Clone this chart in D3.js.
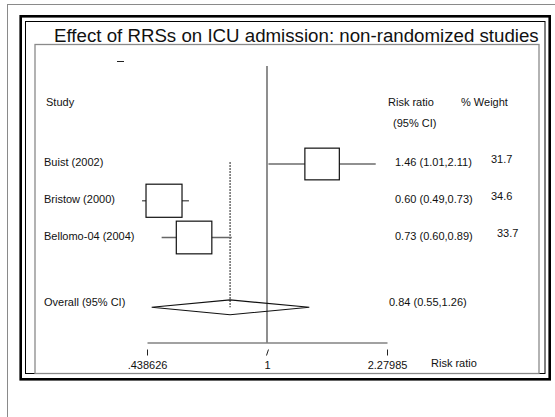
<!DOCTYPE html>
<html>
<head>
<meta charset="utf-8">
<script src="https://cdn.jsdelivr.net/npm/d3@7"></script>
<style>
  html, body { margin: 0; padding: 0; background: #fff; }
  svg text { font-family: "Liberation Sans", Arial, sans-serif; fill: #111; }
</style>
</head>
<body>
<div id="chart"></div>
<script>
const title = "Effect of RRSs on ICU admission: non-randomized studies";

const studies = ["Buist (2002)", "Bristow (2000)", "Bellomo-04 (2004)"];
const ratioLabels = ["1.46 (1.01,2.11)", "0.60 (0.49,0.73)", "0.73 (0.60,0.89)"];
const weights = [31.7, 34.6, 33.7];
// positions of the marks
const estimates = [1.46, 0.493, 0.606];
const lowers = [1.01, 0.424, 0.485];
const uppers = [2.11, 0.585, 0.785];

const overallLabel = "Overall (95% CI)";
const overallText = "0.84 (0.55,1.26)";
const overall = { est: 0.776, lo: 0.453, hi: 1.337 };

const tickValues = [0.438626, 1, 2.27985];
const tickLabels = [".438626", "1", "2.27985"];

const width = 555, height = 417;

const svg = d3.select("#chart")
  .append("svg")
  .attr("width", width)
  .attr("height", height);

// frames
svg.append("rect")
  .attr("x", 7.5).attr("y", 4.5)
  .attr("width", 600).attr("height", 500)
  .attr("fill", "none").attr("stroke", "#8a8a8a").attr("stroke-width", 1);

svg.append("rect")
  .attr("x", 20.7).attr("y", 16.3)
  .attr("width", 529).attr("height", 363)
  .attr("fill", "none").attr("stroke", "#000").attr("stroke-width", 2.6);

svg.append("rect")
  .attr("x", 25.5).attr("y", 21.5)
  .attr("width", 519.5).attr("height", 352)
  .attr("fill", "none").attr("stroke", "#000").attr("stroke-width", 1);

svg.append("rect")
  .attr("x", 35).attr("y", 44.5)
  .attr("width", 504).attr("height", 329)
  .attr("fill", "none").attr("stroke", "#8a8a8a").attr("stroke-width", 1.3);

svg.append("text")
  .attr("x", 54)
  .attr("y", 42)
  .style("font-size", "18.7px")
  .text(title);

// scales
const x = d3.scaleLog()
  .domain([tickValues[0], tickValues[2]])
  .range([147, 387]);

const y = d3.scaleLinear()
  .domain([0, 1])
  .range([164, 200.75]);

const size = d3.scaleSqrt()
  .domain([0, d3.max(weights)])
  .range([0, 36]);

const rows = studies.map((s, i) => ({
  study: s,
  label: ratioLabels[i],
  weight: weights[i],
  est: estimates[i],
  lo: lowers[i],
  hi: uppers[i],
  row: i
}));
const overallRow = 3.9;
const axisY = 342.5;

// stray dash near the top
svg.append("line")
  .attr("x1", 117).attr("x2", 124)
  .attr("y1", 61.5).attr("y2", 61.5)
  .attr("stroke", "#222").attr("stroke-width", 1);

// line of no effect
svg.append("line")
  .attr("x1", x(1)).attr("x2", x(1))
  .attr("y1", 66).attr("y2", axisY)
  .attr("stroke", "#444").attr("stroke-width", 1.2);

// overall estimate dashed line
svg.append("line")
  .attr("x1", x(overall.est)).attr("x2", x(overall.est))
  .attr("y1", y(0) - 2).attr("y2", y(overallRow))
  .attr("stroke", "#222").attr("stroke-width", 1)
  .attr("stroke-dasharray", "2,1");

// CI lines
svg.append("g")
  .selectAll("line")
  .data(rows)
  .join("line")
  .attr("x1", d => x(d.lo))
  .attr("x2", d => x(d.hi))
  .attr("y1", d => y(d.row))
  .attr("y2", d => y(d.row))
  .attr("stroke", (d, i) => i === 0 ? "#222" : "#666")
  .attr("stroke-width", (d, i) => i === 0 ? 1.1 : 1.6);

// boxes
svg.append("g")
  .selectAll("rect")
  .data(rows)
  .join("rect")
  .attr("x", d => x(d.est) - size(d.weight) / 2)
  .attr("y", d => y(d.row) - size(d.weight) * 0.46)
  .attr("width", d => size(d.weight))
  .attr("height", d => size(d.weight) * 0.92)
  .attr("fill", "#fff")
  .attr("stroke", "#111")
  .attr("stroke-width", 1.2);

// overall diamond
const dy = y(overallRow);
svg.append("path")
  .attr("d", d3.line()([
    [x(overall.lo), dy],
    [x(overall.est), dy - 7.4],
    [x(overall.hi), dy],
    [x(overall.est), dy + 7.4]
  ]) + "Z")
  .attr("fill", "none")
  .attr("stroke", "#111")
  .attr("stroke-width", 1.1);

// text columns
const fs = "11px";
const header = svg.append("g").style("font-size", fs);
header.append("text").attr("x", 46).attr("y", 106).text("Study");
header.append("text").attr("x", 388).attr("y", 106).text("Risk ratio");
header.append("text").attr("x", 393).attr("y", 127).text("(95% CI)");
header.append("text").attr("x", 461).attr("y", 106).text("% Weight");

const labels = svg.append("g").style("font-size", fs);
labels.selectAll(".study")
  .data(rows)
  .join("text")
  .attr("class", "study")
  .attr("x", 44)
  .attr("y", d => y(d.row) + 2)
  .text(d => d.study);

labels.selectAll(".rr")
  .data(rows)
  .join("text")
  .attr("class", "rr")
  .attr("x", 395)
  .attr("y", d => y(d.row) + 2)
  .text(d => d.label);

labels.selectAll(".wt")
  .data(rows)
  .join("text")
  .attr("class", "wt")
  .attr("x", (d, i) => i === 2 ? 497 : 491)
  .attr("y", d => y(d.row) - 1)
  .text(d => d.weight.toFixed(1));

labels.append("text")
  .attr("x", 44).attr("y", dy - 1)
  .text(overallLabel);
labels.append("text")
  .attr("x", 389).attr("y", dy - 1)
  .text(overallText);

// x axis
const axis = d3.axisBottom(x)
  .tickValues(tickValues)
  .tickFormat((d, i) => tickLabels[i])
  .tickSizeOuter(0);

const ax = svg.append("g")
  .attr("transform", `translate(0,${axisY})`)
  .call(axis);

ax.select(".domain").attr("stroke", "#444").attr("stroke-width", 1.2);
ax.selectAll(".tick line")
  .attr("x1", d => d === 1 ? 1 : 0)
  .attr("x2", d => d === 1 ? -1 : 0)
  .attr("y1", 7).attr("y2", 13)
  .attr("stroke", "#222");
ax.selectAll(".tick text")
  .attr("y", 19)
  .attr("dy", "0.71em")
  .style("font-size", fs)
  .style("font-family", "'Liberation Sans', Arial, sans-serif")
  .attr("fill", "#111");

svg.append("text")
  .attr("x", 431).attr("y", 367)
  .style("font-size", fs)
  .text("Risk ratio");
</script>
</body>
</html>
